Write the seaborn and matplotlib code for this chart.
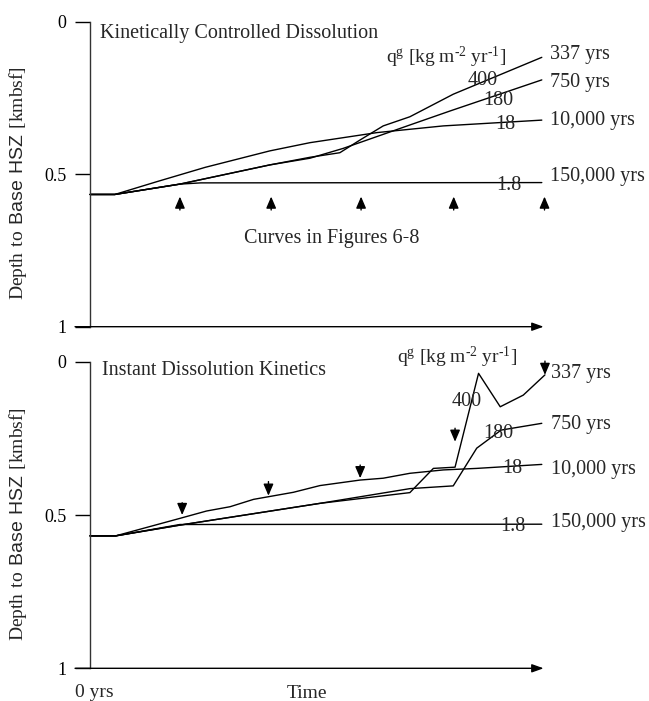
import matplotlib
matplotlib.use("Agg")
import matplotlib.pyplot as plt
import numpy as np
import pandas as pd
import seaborn as sns

# ---------------- data (normalised time, depth to base HSZ in kmbsf) ----------------
# Top panel: kinetically controlled dissolution
top_t_400 = [0, 0.055, 0.199, 0.398, 0.487, 0.553, 0.598, 0.649, 0.708, 0.804, 1.0]
top_d_400 = [0.566, 0.566, 0.532, 0.469, 0.444, 0.429, 0.387, 0.341, 0.311, 0.237, 0.116]
top_t_180 = [0, 0.055, 0.199, 0.398, 0.487, 0.560, 0.635, 0.708, 0.797, 1.0]
top_d_180 = [0.566, 0.566, 0.532, 0.469, 0.447, 0.415, 0.376, 0.338, 0.292, 0.190]
top_t_18 = [0, 0.055, 0.148, 0.255, 0.398, 0.487, 0.635, 0.782, 1.0]
top_d_18 = [0.566, 0.566, 0.524, 0.477, 0.423, 0.396, 0.363, 0.341, 0.322]
top_t_1p8 = [0, 0.055, 0.199, 0.245, 1.0]
top_d_1p8 = [0.566, 0.566, 0.532, 0.528, 0.527]

# Bottom panel: instant dissolution kinetics
bot_t_400 = [0, 0.057, 0.199, 0.509, 0.708, 0.760, 0.808, 0.860, 0.908, 0.959, 1.007]
bot_d_400 = [0.568, 0.568, 0.533, 0.462, 0.427, 0.348, 0.344, 0.038, 0.147, 0.109, 0.043]
bot_t_180 = [0, 0.057, 0.199, 0.509, 0.708, 0.804, 0.856, 0.910, 1.0]
bot_d_180 = [0.568, 0.568, 0.533, 0.462, 0.414, 0.405, 0.282, 0.223, 0.201]
bot_t_18 = [0, 0.057, 0.199, 0.258, 0.310, 0.362, 0.450, 0.509, 0.598, 0.649, 0.708, 0.782, 0.856, 1.0]
bot_d_18 = [0.568, 0.568, 0.511, 0.487, 0.473, 0.449, 0.426, 0.404, 0.386, 0.380, 0.364, 0.353, 0.348, 0.335]
bot_t_1p8 = [0, 0.057, 0.199, 1.0]
bot_d_1p8 = [0.568, 0.568, 0.531, 0.530]

series_flux = ["400", "180", "18", "1.8"]
series_duration = ["337 yrs", "750 yrs", "10,000 yrs", "150,000 yrs"]

# arrows marking curves shown in Figures 6-8
top_arrow_t = [0.199, 0.401, 0.600, 0.805, 1.006]
top_arrow_base = [0.617] * 5
top_arrow_tip = [0.573] * 5
bot_arrow_t = [0.204, 0.395, 0.598, 0.808, 1.007]
bot_arrow_base = [0.460, 0.391, 0.337, 0.217, -0.002]
bot_arrow_tip = [0.500, 0.437, 0.380, 0.261, 0.043]

yticks = [0, 0.5, 1]
ytick_labels = ["0", "0.5", "1"]


def frame(ts, ds):
    rows = []
    for name, t, d in zip(series_flux, ts, ds):
        for ti, di in zip(t, d):
            rows.append({"flux": name, "t": ti, "depth": di})
    return pd.DataFrame(rows)


top_df = frame([top_t_400, top_t_180, top_t_18, top_t_1p8],
               [top_d_400, top_d_180, top_d_18, top_d_1p8])
bot_df = frame([bot_t_400, bot_t_180, bot_t_18, bot_t_1p8],
               [bot_d_400, bot_d_180, bot_d_18, bot_d_1p8])

# ---------------- style ----------------
sns.set_style("white")
plt.rcParams["font.family"] = ["Liberation Serif", "DejaVu Serif"]
plt.rcParams["mathtext.fontset"] = "custom"
plt.rcParams["mathtext.rm"] = "Liberation Serif"
plt.rcParams["mathtext.sf"] = "Liberation Sans"
plt.rcParams["mathtext.default"] = "regular"

W, H = 649, 701
fig = plt.figure(figsize=(W / 100, H / 100), dpi=100)

FS = 14.5
QFS = 14
YLABEL = r"$\mathrm{Depth\ to\ }\mathsf{Base\ HSZ}\mathrm{\ [kmbsf]}$"
QLABEL = r"q$^{\text{g}}$ [kg m$^{\text{-2}}$ yr$^{\text{-1}}$]"


def make_axes(top_px, bottom_px):
    left_px, right_px = 90, 543.6
    ax = fig.add_axes([left_px / W, 1 - bottom_px / H,
                       (right_px - left_px) / W, (bottom_px - top_px) / H])
    return ax


def style_axes(ax):
    ax.set_xlim(0, 1.004)
    ax.set_ylim(1, 0)
    for s in ["top", "right", "bottom"]:
        ax.spines[s].set_visible(False)
    ax.spines["left"].set_linewidth(1.0)
    ax.spines["left"].set_color("#333333")
    ax.set_xticks([])
    ax.set_yticks(yticks)
    ax.set_yticklabels(ytick_labels, fontsize=13)
    ax.tick_params(axis="y", direction="out", length=10.8, width=1.0,
                   pad=6, colors="black", left=True)
    ax.set_xlabel("")
    ax.set_ylabel("")
    # x axis with arrow
    ax.annotate("", xy=(1.0, 1.0), xytext=(-0.033, 1.0),
                xycoords=("axes fraction", "data"),
                textcoords=("axes fraction", "data"),
                arrowprops=dict(arrowstyle="-|>,head_length=0.7,head_width=0.25",
                                color="black", lw=1.0, shrinkA=0, shrinkB=0),
                annotation_clip=False)
    ax.text(-0.159, 0.47, YLABEL, rotation=90, ha="center", va="center",
            transform=ax.transAxes, fontsize=14)


def draw_arrows(ax, ts, bases, tips):
    for t, b, tp in zip(ts, bases, tips):
        ax.annotate("", xy=(t, tp), xytext=(t, b),
                    arrowprops=dict(arrowstyle="-|>,head_length=0.7,head_width=0.3",
                                    color="black", lw=1.0, shrinkA=0, shrinkB=0),
                    annotation_clip=False)


palette = {k: "black" for k in series_flux}

# ---------------- top panel ----------------
ax1 = make_axes(22, 326.7)
sns.lineplot(data=top_df, x="t", y="depth", hue="flux", palette=palette,
             estimator=None, sort=False, legend=False, lw=1.0, ax=ax1, clip_on=False)
style_axes(ax1)
draw_arrows(ax1, top_arrow_t, top_arrow_base, top_arrow_tip)
ax1.text(0.022, 0.037, "Kinetically Controlled Dissolution", fontsize=FS,
         ha="left", va="center")
ax1.text(0.788, 0.117, QLABEL, fontsize=QFS, ha="center", va="center")
ax1.text(0.536, 0.709, "Curves in Figures 6\u20118", fontsize=FS, ha="center", va="center")
for (tx, dy), lab in zip([(0.870, 0.192), (0.903, 0.258), (0.920, 0.338), (0.928, 0.535)],
                         series_flux):
    ax1.text(tx, dy, lab, fontsize=FS, ha="center", va="center")
for dy, lab in zip([0.108, 0.198, 0.324, 0.508], series_duration):
    ax1.text(1.018, dy, lab, fontsize=FS, ha="left", va="center", clip_on=False)

# ---------------- bottom panel ----------------
ax2 = make_axes(361.7, 668.3)
sns.lineplot(data=bot_df, x="t", y="depth", hue="flux", palette=palette,
             estimator=None, sort=False, legend=False, lw=1.0, ax=ax2, clip_on=False)
style_axes(ax2)
draw_arrows(ax2, bot_arrow_t, bot_arrow_base, bot_arrow_tip)
ax2.text(0.026, 0.029, "Instant Dissolution Kinetics", fontsize=FS,
         ha="left", va="center")
ax2.text(0.812, -0.014, QLABEL, fontsize=QFS, ha="center", va="center")
for (tx, dy), lab in zip([(0.834, 0.130), (0.904, 0.234), (0.934, 0.348), (0.937, 0.538)],
                         series_flux):
    ax2.text(tx, dy, lab, fontsize=FS, ha="center", va="center")
for dy, lab in zip([0.038, 0.206, 0.350, 0.525], series_duration):
    ax2.text(1.020, dy, lab, fontsize=FS, ha="left", va="center", clip_on=False)
ax2.text(0.009, 1.078, "0 yrs", fontsize=14, ha="center", va="center")
ax2.text(0.480, 1.081, "Time", fontsize=14, ha="center", va="center")

fig.savefig("out.png", dpi=100)
